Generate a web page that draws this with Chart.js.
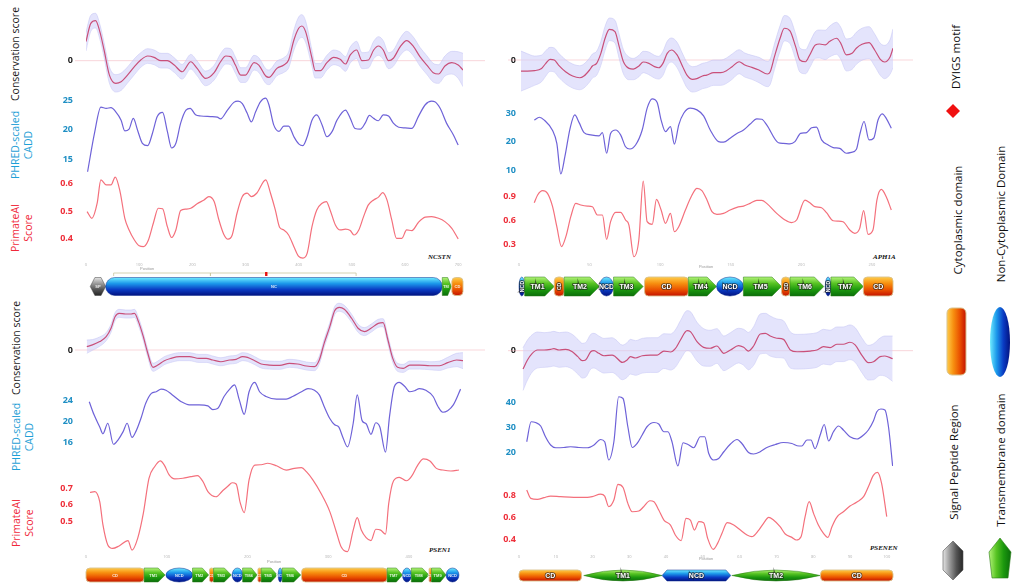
<!DOCTYPE html>
<html>
<head>
<meta charset="utf-8">
<script src="https://cdn.jsdelivr.net/npm/chart.js@4.4.1/dist/chart.umd.min.js"></script>
<style>
  html, body { margin: 0; padding: 0; background: #fff; }
  body { width: 1024px; height: 586px; position: relative; overflow: hidden; font-family: "Open Sans", sans-serif; }
  canvas { position: absolute; }
  .vt { position: absolute; transform: translate(-50%, -50%) rotate(-90deg); white-space: nowrap; text-align: center; line-height: 13px; }
  .gene { position: absolute; font-family: "Liberation Serif", serif; font-style: italic; font-weight: bold; font-size: 7px; color: #111; }
</style>
</head>
<body>

<div class="vt" style="left:15px; top:54px; font-size:10.5px; color:#1a1a1a;">Conservation score</div>
<div class="vt" style="left:22px; top:145px; font-size:10.5px; color:#1ea0d6;">PHRED-scaled<br>CADD</div>
<div class="vt" style="left:22px; top:228px; font-size:10.5px; color:#f0283a;">PrimateAI<br>Score</div>
<div class="vt" style="left:16px; top:348px; font-size:10.5px; color:#1a1a1a;">Conservation score</div>
<div class="vt" style="left:23px; top:437px; font-size:10.5px; color:#1ea0d6;">PHRED-scaled<br>CADD</div>
<div class="vt" style="left:23px; top:523px; font-size:10.5px; color:#f0283a;">PrimateAI<br>Score</div>

<div class="gene" style="left:428px; top:253px;">NCSTN</div>
<div class="gene" style="left:873px; top:253px;">APH1A</div>
<div class="gene" style="left:429px; top:546px;">PSEN1</div>
<div class="gene" style="left:870px; top:544px;">PSENEN</div>

<div class="vt" style="left:955px; top:57px; font-size:11.5px; color:#111;">DYIGS motif</div>
<div class="vt" style="left:957px; top:220px; font-size:11.5px; color:#111;">Cytoplasmic domain</div>
<div class="vt" style="left:1000px; top:214px; font-size:11.5px; color:#111;">Non-Cytoplasmic Domain</div>
<div class="vt" style="left:953px; top:462px; font-size:11.5px; color:#111;">Signal Peptide Region</div>
<div class="vt" style="left:1000px; top:460px; font-size:11.5px; color:#111;">Transmembrane domain</div>

<script>
// ---- NCSTN ----
const ncstnConsX = [0,9,18,26,34,44,56,66,78,91,103,116,128,141,153,166,181,197,209,225,241,253,263,272,281,291,300,316,325,338,344,359,372,381,391,400,406,413,425,431,441,453,466,478,488,497,509,519,531,541,550,559,569,578,591,603,616,628,641,653,663,675,688,700,709];
const ncstnCons = [1.43,2.8,3.0,2.18,0.8,-1.08,-1.7,-1.58,-1.08,-0.45,0.05,0.35,0.25,0,0,-0.33,-0.83,-0.08,-0.58,-1.33,-0.9,-0.08,0.35,0.3,-0.33,-1.08,-1.08,-0.15,-0.33,-1.15,-1.25,-0.58,-0.33,0.05,1.55,2.43,2.6,2.18,0.18,-0.75,-0.75,-0.15,0.25,0.1,-0.25,0.43,0.8,0,0.05,0.8,1.1,0.8,0,0.18,1.05,1.5,1.05,0.3,-0.33,-0.9,-1.0,-0.4,-0.15,-0.33,-0.7];
const ncstnConsSd = [0.7,0.6,0.55,0.55,0.55,0.6,0.65,0.65,0.6,0.6,0.55,0.55,0.55,0.55,0.55,0.55,0.55,0.55,0.55,0.55,0.55,0.6,0.6,0.6,0.6,0.55,0.55,0.55,0.55,0.55,0.55,0.55,0.55,0.6,0.75,0.85,0.85,0.8,0.6,0.55,0.55,0.55,0.55,0.55,0.55,0.6,0.65,0.6,0.6,0.65,0.7,0.7,0.6,0.6,0.65,0.7,0.7,0.7,0.7,0.7,0.7,0.75,0.85,1.0,1.25];
const ncstnCaddX = [3,16,28,38,47,56,66,73,81,89,97,106,116,125,134,144,153,161,169,178,188,196,206,216,234,247,253,266,278,286,294,303,311,319,328,338,344,353,363,372,381,391,400,408,416,425,434,444,453,463,472,488,497,506,516,525,533,541,550,559,569,578,588,600,613,625,638,650,656,666,678,691,700];
const ncstnCadd = [12.9,19.4,23.8,23.6,23.7,23.0,21.6,19.8,20.1,21.9,19.9,17.7,17.3,19.4,22.2,22.9,19.7,16.9,17.7,21.1,23.3,23.6,22.5,22.3,22.2,22.1,21.8,23.3,24.6,24.8,24.4,22.8,21.3,23.0,24.7,25.3,24.2,20.8,19.7,20.6,20.6,18.8,17.6,17.3,18.8,21.6,22.5,20.8,18.8,19.7,21.6,23.3,21.9,20.2,20.1,21.1,22.4,21.9,21.5,22.5,22.3,21.1,20.4,20.3,20.2,22.2,24.2,24.8,24.7,23.6,21.1,19.1,17.4];
const ncstnPaiX = [2,11,21,28,38,47,55,64,73,81,91,100,108,117,127,136,144,153,161,169,178,188,197,209,222,231,241,250,259,267,275,284,294,303,311,321,338,347,356,364,372,381,391,400,408,416,425,434,444,452,459,469,478,488,497,504,513,522,531,541,550,558,566,575,584,594,603,613,625,638,650,663,675,688,700];
const ncstnPai = [0.498,0.474,0.528,0.612,0.594,0.594,0.622,0.570,0.474,0.432,0.396,0.375,0.372,0.394,0.459,0.510,0.508,0.444,0.405,0.432,0.502,0.507,0.510,0.526,0.540,0.552,0.534,0.468,0.417,0.399,0.414,0.492,0.552,0.564,0.552,0.564,0.612,0.564,0.504,0.442,0.432,0.414,0.372,0.337,0.331,0.349,0.444,0.504,0.528,0.534,0.504,0.450,0.432,0.435,0.430,0.414,0.432,0.480,0.522,0.540,0.550,0.566,0.540,0.468,0.402,0.402,0.432,0.430,0.459,0.478,0.480,0.474,0.462,0.438,0.400];
const ncstnDomains = [[8,37,'SP','SP'],[37,670,'NCD','NC'],[670,687,'TM','TM'],[688,709,'CD','CD']];
const ncstnRegions = [[52,234],[234,508]];
const ncstnMotif = [339];

// ---- APH1A ----
const aph1aConsX = [1.4,6,11,16,19,22,25,28,33,38,43,46,50,52,55,58,61,64,68,71,74,78,81,85,88,92,96,99,102,105,108,112,116,119,123,126,130,133,138,143,147,151,156,160,165,170,176,178,181,185,188,192,196,199,203,206,210,213,217,220,225,228,232,236,239,243,248,252,256,259,263,265];
const aph1aCons = [-0.83,-0.83,-0.8,-0.63,-0.25,0.05,0,-0.38,-0.88,-1.2,-1.33,-1.2,-0.75,-0.45,-0.25,0.5,1.63,2.3,2.13,1.0,-0.13,-0.63,-0.68,-0.45,-0.15,-0.25,-0.5,-0.58,-0.25,0.5,0.75,0.38,-0.5,-1.13,-1.45,-1.4,-1.2,-1.13,-0.95,-0.95,-0.8,-0.5,-0.13,-0.38,-0.55,-0.75,-1.05,-0.88,0.25,1.63,2.38,2.18,1.0,0,-0.13,0.38,1.13,1.2,1.13,1.38,1.63,1.25,0.38,0.5,0.88,1.18,1.3,0.75,0.05,-0.15,0.25,0.88];
const aph1aConsSd = [1.5,1.3,1.1,1.0,0.95,0.9,0.9,0.9,0.9,0.9,0.9,0.9,0.9,0.9,0.9,0.9,0.9,0.85,0.85,0.9,0.9,0.85,0.8,0.8,0.8,0.85,0.85,0.85,0.9,0.9,0.9,0.95,0.95,0.95,0.95,0.95,0.95,0.95,0.95,0.95,0.95,0.95,0.9,0.9,0.9,0.95,0.95,0.95,0.95,0.95,0.95,0.95,0.95,0.9,0.9,0.95,1.0,1.05,1.1,1.15,1.2,1.2,1.2,1.2,1.2,1.2,1.2,1.2,1.2,1.25,1.3,1.45];
const aph1aCaddX = [10.8,14.4,17.9,23.8,26.8,29.6,32.5,36.2,39.5,42.6,46.1,50.8,56.7,59.1,62.1,64.9,68.5,72,75.5,78.6,82.6,87.3,90.8,94.4,97.9,100.7,103.8,107.3,110.1,113.2,116.7,121.4,126.1,130.8,135.5,141.4,144.9,149.6,154.4,159.1,163.8,168.5,172,175.5,183.8,187.3,192,195.5,199.5,203.8,207.3,210.8,214.4,219.1,222.6,227.3,232,235.5,239.1,241.4,244.5,248,251.3,254.4,257.4,260.2,263.8];
const aph1aCadd = [27.6,28.6,27.6,23.9,19.4,8.6,14.7,24.7,29.4,26.7,23.2,22.4,22.0,23.2,15.9,22.9,24.1,22.4,18.2,17.4,18.8,24.1,31.8,35.1,33.8,27.6,23.5,25.3,19.1,25.9,30.0,31.8,31.2,29.1,24.1,20.0,19.8,21.2,22.9,24.1,26.2,28.0,27.9,25.9,19.6,19.4,19.2,20.0,22.9,23.2,24.9,25.1,20.6,18.8,17.9,17.6,15.9,16.2,17.3,22.4,27.1,20.6,21.2,27.6,29.8,28.2,24.7];
const aph1aPaiX = [10.8,13.2,16.7,20.2,23.8,26.8,30.1,33.2,36.7,40.2,43.8,48.5,52,55.5,59.1,62.1,64.9,68.5,72,75.5,77.9,81.4,84.9,88,90.8,94.4,97.4,100.7,103.8,107.3,110.1,113.2,117.9,122.6,126.1,129.6,133.2,136.7,140.2,144.9,149.6,154.4,159.1,163.8,168.5,172,175.5,182.6,188.5,193.2,196.7,202.6,206.1,209.6,214.4,217.9,222.6,226.1,229.6,234.4,237.9,241.4,244.2,247.3,250.8,253.6,256.7,260.2,263.8];
const aph1aPai = [0.824,0.921,0.976,0.942,0.774,0.522,0.270,0.396,0.648,0.816,0.795,0.782,0.774,0.669,0.669,0.362,0.585,0.703,0.703,0.606,0.543,0.144,0.354,1.097,0.585,0.551,0.866,0.732,0.564,0.690,0.459,0.522,0.732,0.921,1.005,0.976,0.858,0.711,0.677,0.690,0.732,0.766,0.782,0.816,0.854,0.854,0.816,0.690,0.606,0.572,0.606,0.858,0.824,0.774,0.761,0.698,0.597,0.593,0.585,0.480,0.438,0.501,0.724,0.425,0.480,0.858,0.992,0.900,0.732];
const aph1aDomains = [[0,4,'NCD','NCD'],[4,25,'TM','TM1'],[25,32,'CD','CD'],[32,57,'TM','TM2'],[57,67,'NCD','NCD'],[67,88,'TM','TM3'],[89,120,'CD','CD'],[120,140,'TM','TM4'],[140,159,'NCD','NCD'],[159,186,'TM','TM5'],[186,192,'CD','CD'],[192,216,'TM','TM6'],[217,221,'NCD','NCD'],[221,244,'TM','TM7'],[244,265,'CD','CD']];

// ---- PSEN1 ----
const psen1ConsX = [1,8,17,25,31,36,41,49,56,60,65,71,76,83,89,97,105,116,128,140,149,157,167,178,186,194,200,209,217,227,240,252,262,273,283,289,295,302,308,314,320,329,337,345,353,362,368,374,380,386,393,401,413,426,438,448,459,467];
const psen1Cons = [0.25,0.38,0.63,1.0,1.63,2.5,2.75,2.7,2.7,2.75,2.13,1.0,-0.13,-1.3,-1.13,-0.8,-0.63,-0.5,-0.5,-0.63,-0.63,-0.75,-0.88,-0.75,-0.7,-0.5,-0.55,-0.8,-1.05,-1.13,-1.15,-1.0,-1.05,-1.2,-1.25,-0.75,0.5,1.75,2.95,3.2,3.05,2.38,1.63,1.38,1.63,2.0,2.05,0.75,-0.63,-1.3,-1.38,-1.13,-1.13,-1.18,-1.18,-0.95,-0.75,-0.8];
const psen1ConsSd = [0.5,0.4,0.35,0.3,0.3,0.3,0.3,0.3,0.3,0.3,0.3,0.3,0.3,0.3,0.3,0.3,0.3,0.3,0.3,0.3,0.3,0.3,0.3,0.3,0.3,0.3,0.3,0.3,0.3,0.3,0.3,0.3,0.3,0.3,0.3,0.3,0.3,0.3,0.3,0.3,0.3,0.3,0.3,0.3,0.3,0.3,0.3,0.3,0.3,0.3,0.3,0.3,0.3,0.3,0.35,0.4,0.5,0.6];
const psen1CaddX = [4,10,17,21,27,34,40,46,51,57,62,68,74,81,87,93,99,107,118,128,140,151,157,163,171,178,184,190,196,202,209,215,223,236,248,256,267,275,283,289,295,302,308,313,318,324,331,336,342,347,353,359,364,371,376,382,388,395,401,407,413,421,430,436,442,448,455,464];
const psen1Cadd = [23.8,21.3,19.0,17.7,19.7,15.7,16.6,18.1,19.7,17.0,18.2,20.6,23.5,25.4,25.7,26.2,26.0,25.1,23.8,23.2,23.2,23.0,22.3,22.5,24.8,26.2,27.0,24.1,21.4,25.7,27.5,25.7,24.8,24.3,24.3,24.8,25.7,26.3,26.0,25.1,22.9,20.6,19.4,19.0,17.1,15.2,19.7,25.1,20.2,19.6,17.6,19.8,19.0,14.2,21.0,26.7,27.5,26.7,25.7,25.9,26.3,26.0,24.8,22.9,21.8,22.1,23.2,26.2];
const psen1PaiX = [5,11,17,21,27,33,41,52,57,64,71,78,85,92,97,103,110,120,130,138,145,151,161,169,176,181,186,191,196,202,209,217,225,236,248,258,267,273,281,291,302,310,316,324,331,336,341,347,353,359,365,371,375,381,388,397,403,411,418,426,434,442,452,462];
const psen1Pai = [0.676,0.680,0.619,0.478,0.357,0.336,0.351,0.383,0.326,0.397,0.548,0.761,0.831,0.866,0.841,0.781,0.757,0.761,0.771,0.777,0.740,0.680,0.649,0.684,0.714,0.734,0.726,0.613,0.553,0.751,0.841,0.843,0.852,0.837,0.811,0.821,0.825,0.801,0.751,0.670,0.559,0.437,0.346,0.316,0.447,0.522,0.447,0.401,0.383,0.452,0.447,0.423,0.609,0.746,0.767,0.746,0.771,0.841,0.878,0.866,0.821,0.811,0.805,0.811];
const psen1Domains = [[0,72,'CD','CD'],[72,98,'TM','TM1'],[99,132,'NCD','NCD'],[132,152,'TM','TM2'],[153,158,'CD','CD'],[158,180,'TM','TM3'],[181,194,'NCD','NCD'],[194,212,'TM','TM4'],[213,217,'CD','CD'],[217,237,'TM','TM5'],[238,243,'NCD','NCD'],[243,266,'TM','TM6'],[267,373,'CD','CD'],[373,392,'TM','TM7'],[392,403,'NCD','NCD'],[403,425,'TM','TM8'],[425,428,'CD','CD'],[428,446,'TM','TM9'],[446,462,'NCD','NCD']];

// ---- PSENEN ----
const psenenConsX = [1.1,2.3,3.6,5,6.8,8.6,9.5,10.9,12.7,14.5,16,17.2,18.1,19.5,20.4,21.7,23.1,25.3,26.2,28.1,29.4,30.3,31.7,33.5,35.7,37.6,39.4,41.2,42.5,43.9,45.7,46.6,48.4,50.2,52,53.8,55.7,57.5,59.7,61.1,62.4,63.8,65.6,67,68.3,70.1,71.9,73.8,75.6,79.2,81,82.8,84.6,86.4,88.2,90,91.4,93.2,95,96.4,98.2,99.5,101.6];
const psenenCons = [-1.38,-0.7,-0.2,0.05,0.05,0.1,0.15,0.05,0.1,-0.08,-0.45,-0.75,-0.7,-0.08,0,-0.2,-0.38,-0.33,-0.45,-0.88,-0.7,-0.45,-0.55,-0.38,-0.33,-0.33,-0.03,-0.1,0.15,0.8,1.5,1.43,0.68,0.25,0.18,0.35,-0.2,0.05,0.38,0.25,-0.03,0.35,1.25,1.3,1.1,0.93,0.85,0.05,-0.08,-0.03,0.05,0.3,0.23,0.48,0.48,0.63,0.43,-0.33,-0.9,-0.83,-0.45,-0.4,-0.6];
const psenenConsSd = [1.6,1.5,1.4,1.35,1.3,1.3,1.3,1.3,1.3,1.3,1.3,1.3,1.3,1.3,1.3,1.3,1.3,1.3,1.3,1.3,1.3,1.3,1.3,1.3,1.3,1.3,1.3,1.35,1.4,1.45,1.5,1.5,1.45,1.4,1.35,1.3,1.3,1.3,1.3,1.35,1.4,1.45,1.5,1.5,1.5,1.45,1.4,1.35,1.3,1.3,1.3,1.3,1.3,1.3,1.3,1.3,1.3,1.3,1.3,1.35,1.4,1.5,1.7];
const psenenCaddX = [2.1,3.3,4.5,5.9,7.2,8.6,10,12.2,14,16.3,18.6,20.4,22.2,23.3,24.4,25.8,27.1,28.3,29.6,30.8,32.1,33.5,34.8,36.7,38,39.4,40.5,41.6,43.2,44.6,46.2,47.5,49.3,50.5,51.6,52.9,54.3,55.7,57.5,59.3,60.6,62.4,63.8,65.6,67.4,69.7,71.9,74.2,75.6,76.9,78.3,79.4,80.5,81.9,83,84.2,85.5,86.9,88.2,90,91.9,93.7,95,96.4,97.3,98.4,99.5,100.5,101.6];
const psenenCadd = [24.4,32.4,32.1,30.7,26.4,23.1,22.0,22.1,22.4,22.1,22.0,23.1,25.3,24.4,17.1,24.4,42.4,41.7,30.4,22.1,23.7,27.1,30.4,32.1,31.5,28.4,28.4,24.4,14.7,24.0,23.1,22.0,26.4,26.4,19.7,17.1,17.7,20.4,23.5,25.3,23.7,20.1,19.5,20.4,22.1,23.3,24.1,23.7,22.8,22.7,25.1,25.1,21.6,27.1,31.3,24.7,28.4,30.7,29.1,26.4,25.5,27.1,29.1,32.8,36.4,37.5,37.1,30.1,14.7];
const psenenPaiX = [2.1,3.2,5,6.8,8.6,11.3,14.9,18.6,19.9,22.2,23.3,24.4,25.8,26.9,28.3,29.6,30.8,32.6,33.9,35.6,36.7,38,39.4,41.2,42.5,44.1,45.4,46.6,47.7,48.9,50.2,51.3,52.8,54,55.2,56.6,58.4,60.2,62,63.3,65.2,66.5,67.9,69.2,71,72.4,74.2,75.4,76.7,77.8,78.9,80.1,81.4,82.8,84,85.1,86.4,88.2,90,91.9,93.7,95,96.4,97.5,98.6,100];
const psenenPai = [0.852,0.776,0.766,0.782,0.797,0.791,0.785,0.785,0.791,0.815,0.797,0.699,0.760,0.904,0.876,0.730,0.653,0.660,0.699,0.754,0.745,0.669,0.577,0.531,0.440,0.388,0.592,0.577,0.485,0.562,0.553,0.409,0.308,0.363,0.455,0.553,0.531,0.485,0.440,0.424,0.485,0.547,0.602,0.577,0.516,0.449,0.418,0.394,0.424,0.608,0.745,0.638,0.531,0.455,0.418,0.516,0.602,0.653,0.705,0.742,0.791,0.882,0.989,1.014,0.913,0.608];
const psenenDomains = [[0,17,'CD','CD'],[17.6,38.9,'TM','TM1'],[38.9,57.6,'NCD','NCD'],[57.9,81.9,'TM','TM2'],[82,101.7,'CD','CD']];

// tick labels
const consTicks = [0];
const ncstnCaddTicks = [15, 20, 25], ncstnPaiTicks = [0.4, 0.5, 0.6];
const aph1aCaddTicks = [10, 20, 30], aph1aPaiTicks = [0.3, 0.6, 0.9];
const psen1CaddTicks = [16, 20, 24], psen1PaiTicks = [0.5, 0.6, 0.7];
const psenenCaddTicks = [20, 30, 40], psenenPaiTicks = [0.4, 0.6, 0.8];
const ncstnPosTicks = [0, 100, 200, 300, 400, 500, 600, 700];
const aph1aPosTicks = [0, 50, 100, 150, 200, 250];
const psen1PosTicks = [0, 100, 200, 300, 400];
const psenenPosTicks = [0, 10, 20, 30, 40, 50, 60, 70, 80, 90, 100];

Chart.defaults.font.family = '"Open Sans", sans-serif';
Chart.defaults.animation = false;

const COLS = {
  left:  { plotLeft: 86,  plotWidth: 377, axisW: 41, tickPad: 13, extra: 22 },
  right: { plotLeft: 519, plotWidth: 374, axisW: 26, tickPad: 3,  extra: 20 }
};

const CONS_LINE = '#c9507a', BAND_FILL = 'rgba(206,206,250,0.55)', BAND_EDGE = 'rgba(190,190,242,0.8)';
const CADD_LINE = '#6e62d8', PAI_LINE = '#f4707c';
const CONS_TICK = '#222', CADD_TICK = '#1f8fc4', PAI_TICK = '#ee2f3a';

function addCanvas(left, top, w, h) {
  const cv = document.createElement('canvas');
  cv.width = w; cv.height = h;
  cv.style.left = left + 'px'; cv.style.top = top + 'px';
  cv.style.width = w + 'px'; cv.style.height = h + 'px';
  document.body.appendChild(cv);
  return cv;
}

const zeroLine = {
  id: 'zeroLine',
  beforeDatasetsDraw(chart) {
    const y = chart.scales.y.getPixelForValue(0);
    const c = chart.ctx;
    c.save();
    c.strokeStyle = 'rgba(242,165,175,0.45)';
    c.lineWidth = 1;
    c.beginPath();
    c.moveTo(chart.chartArea.left - 11, y);
    c.lineTo(chart.width, y);
    c.stroke();
    c.restore();
  }
};

function pts(xs, ys) { return xs.map((x, i) => ({ x: x, y: ys[i] })); }

function scoreChart(side, top, height, xMax, xs, ys, o) {
  const C = COLS[side];
  const cv = addCanvas(C.plotLeft - C.axisW, top, C.axisW + C.plotWidth + C.extra, height);
  const datasets = [{
    data: pts(xs, ys), borderColor: o.color, borderWidth: 1.2, pointRadius: 0,
    fill: false, cubicInterpolationMode: 'monotone'
  }];
  if (o.sd) {
    datasets.push({
      data: pts(xs, ys.map((v, i) => v + o.sd[i])), borderColor: BAND_EDGE, borderWidth: 0.6,
      backgroundColor: BAND_FILL, pointRadius: 0, fill: '+1', cubicInterpolationMode: 'monotone'
    });
    datasets.push({
      data: pts(xs, ys.map((v, i) => v - o.sd[i])), borderColor: BAND_EDGE, borderWidth: 0.6,
      pointRadius: 0, fill: false, cubicInterpolationMode: 'monotone'
    });
  }
  return new Chart(cv, {
    type: 'line',
    data: { datasets: datasets },
    options: {
      responsive: false, events: [],
      layout: { padding: { left: 0, right: C.extra, top: 0, bottom: 0 } },
      plugins: { legend: { display: false }, tooltip: { enabled: false } },
      scales: {
        x: { type: 'linear', min: 0, max: xMax, display: false },
        y: {
          min: o.yMin, max: o.yMax,
          afterFit: s => { s.width = C.axisW; s.paddingTop = 0; s.paddingBottom = 0; },
          afterBuildTicks: s => { s.ticks = o.ticks.map(v => ({ value: v })); },
          grid: { display: false, drawTicks: false, tickLength: 0 },
          border: { display: false },
          ticks: { color: o.tickColor, padding: C.tickPad, font: { size: 9, weight: 'bold' }, callback: v => String(v) }
        }
      }
    },
    plugins: o.zero ? [zeroLine] : []
  });
}

// ---- domain shapes ----
const PAL = {
  CD:  ['#ffcc4a', '#f79010', '#ea5200', '#c41200'],
  NCD: ['#70ecff', '#1c98ea', '#0a3cc4', '#021280'],
  TM:  ['#b4f47a', '#58c424', '#1c980e', '#0a6e0a'],
  SP:  ['#e4e4e4', '#9a9a9a', '#555555', '#262626']
};
const EDGE = { CD: '#d9c18c', NCD: '#0c2c90', TM: '#2a7a18', SP: '#444444' };

function grad(c, x0, y0, x1, y1, stops) {
  const g = c.createLinearGradient(x0, y0, x1, y1);
  stops.forEach((s, i) => g.addColorStop(i / (stops.length - 1), s));
  return g;
}

function rrect(c, x, y, w, h, r) {
  c.moveTo(x + r, y);
  c.lineTo(x + w - r, y); c.arcTo(x + w, y, x + w, y + r, r);
  c.lineTo(x + w, y + h - r); c.arcTo(x + w, y + h, x + w - r, y + h, r);
  c.lineTo(x + r, y + h); c.arcTo(x, y + h, x, y + h - r, r);
  c.lineTo(x, y + r); c.arcTo(x, y, x + r, y, r);
  c.closePath();
}

function hexH(c, x0, y0, x1, y1, q) {
  const ym = (y0 + y1) / 2;
  c.moveTo(x0, ym); c.lineTo(x0 + q, y0); c.lineTo(x1 - q, y0);
  c.lineTo(x1, ym); c.lineTo(x1 - q, y1); c.lineTo(x0 + q, y1); c.closePath();
}

function shapePath(c, kind, x0, y0, x1, y1, variant) {
  const w = x1 - x0, h = y1 - y0, ym = (y0 + y1) / 2, xm = (x0 + x1) / 2;
  c.beginPath();
  if (kind === 'CD') {
    rrect(c, x0, y0, w, h, Math.min(4, w / 2, h / 2));
  } else if (kind === 'NCD') {
    if (variant === 'hex') hexH(c, x0, y0, x1, y1, Math.min(h * 0.45, w * 0.2));
    else if (w > 3 * h) rrect(c, x0, y0, w, h, h / 2);
    else c.ellipse(xm, ym, w / 2, h / 2, 0, 0, Math.PI * 2);
  } else if (kind === 'TM') {
    if (variant === 'lens') {
      c.moveTo(x0, ym);
      c.quadraticCurveTo(xm, y0 - h / 2, x1, ym);
      c.quadraticCurveTo(xm, y1 + h / 2, x0, ym);
      c.closePath();
    } else {
      const t = Math.min(h * 0.5, w * 0.4);
      c.moveTo(x0, y0); c.lineTo(x1 - t, y0); c.lineTo(x1, ym);
      c.lineTo(x1 - t, y1); c.lineTo(x0, y1); c.closePath();
    }
  } else if (kind === 'SP') {
    hexH(c, x0, y0, x1, y1, Math.min(h * 0.3, w * 0.3));
  }
}

function domainTrack(side, top, height, xMax, ticks, domains, o) {
  const C = COLS[side];
  const cv = addCanvas(C.plotLeft - 4, top, C.plotWidth + 8, height);
  const drawDomains = {
    id: 'domains',
    afterDraw(chart) {
      const c = chart.ctx, xs = chart.scales.x;
      const y0 = o.barTop, y1 = o.barTop + o.barH, ym = y0 + o.barH / 2;
      c.save();
      // position label
      c.fillStyle = '#999'; c.font = '4px "Liberation Sans"'; c.textAlign = 'center'; c.textBaseline = 'middle';
      c.fillText('Position', o.posX ? xs.getPixelForValue(o.posX) : (chart.chartArea.left + chart.chartArea.right) / 2, o.posY);
      // annotated regions and motif
      (o.regions || []).forEach(r => {
        const a = xs.getPixelForValue(r[0]), b = xs.getPixelForValue(r[1]);
        c.strokeStyle = '#c9c79e'; c.lineWidth = 0.8;
        c.beginPath();
        c.moveTo(a, o.regY + 3); c.lineTo(a, o.regY); c.lineTo(b, o.regY); c.lineTo(b, o.regY + 3);
        c.stroke();
      });
      (o.motif || []).forEach(m => {
        const x = xs.getPixelForValue(m);
        c.fillStyle = '#e81010';
        c.fillRect(x - 1.2, o.regY - 1, 2.4, 4);
      });
      domains.forEach(d => {
        const x0 = xs.getPixelForValue(d[0]), x1 = xs.getPixelForValue(d[1]);
        const kind = d[2];
        const variant = kind === 'TM' ? o.tmShape : (kind === 'NCD' ? o.ncdShape : null);
        shapePath(c, kind, x0, y0, x1, y1, variant);
        c.fillStyle = grad(c, 0, y0, 0, y1, PAL[kind]);
        c.fill();
        c.strokeStyle = EDGE[kind]; c.lineWidth = kind === 'CD' ? 0.9 : 0.5;
        c.stroke();
        // label
        const w = x1 - x0;
        let fs = o.labelSize;
        let lx = (x0 + x1) / 2;
        if (kind === 'TM' && o.tmShape !== 'lens') lx -= Math.min(o.barH * 0.5, w * 0.4) * 0.2;
        c.save();
        c.translate(lx, ym);
        if (w < o.barH * 0.6 && o.labelSize >= 6) { c.rotate(-Math.PI / 2); fs = o.labelSize * 0.75; }
        c.font = 'bold ' + fs + 'px "Liberation Sans"';
        c.textAlign = 'center'; c.textBaseline = 'middle';
        if (fs >= 5) {
          c.lineWidth = 1.6; c.strokeStyle = 'rgba(30,30,30,0.75)';
          c.strokeText(d[3], 0, 0.5);
          c.fillStyle = '#fff';
        } else {
          c.fillStyle = 'rgba(255,255,255,0.85)';
        }
        c.fillText(d[3], 0, 0.5);
        c.restore();
      });
      c.restore();
    }
  };
  return new Chart(cv, {
    type: 'scatter',
    data: { datasets: [] },
    options: {
      responsive: false, events: [],
      layout: { padding: { left: 4, right: 4, top: 0, bottom: 0 } },
      plugins: { legend: { display: false }, tooltip: { enabled: false } },
      scales: {
        x: {
          type: 'linear', position: 'top', min: 0, max: xMax,
          afterFit: s => { s.height = 6; },
          afterBuildTicks: s => { s.ticks = ticks.map(v => ({ value: v })); },
          grid: { display: false, drawTicks: false, tickLength: 0 },
          border: { display: false },
          ticks: { color: '#b4b4b4', padding: 0, maxRotation: 0, autoSkip: false, font: { size: 4 } }
        },
        y: { display: false, min: 0, max: 1 }
      }
    },
    plugins: [drawDomains]
  });
}

// ---- NCSTN (top left) ----
scoreChart('left', 8, 88, 709, ncstnConsX, ncstnCons, { yMin: -2.65, yMax: 3.95, ticks: consTicks, color: CONS_LINE, tickColor: CONS_TICK, sd: ncstnConsSd, zero: true });
scoreChart('left', 92, 84, 709, ncstnCaddX, ncstnCadd, { yMin: 12.18, yMax: 26.35, ticks: ncstnCaddTicks, color: CADD_LINE, tickColor: CADD_TICK });
scoreChart('left', 174, 88, 709, ncstnPaiX, ncstnPai, { yMin: 0.317, yMax: 0.633, ticks: ncstnPaiTicks, color: PAI_LINE, tickColor: PAI_TICK });
domainTrack('left', 261, 36, 709, ncstnPosTicks, ncstnDomains, { barTop: 16.5, barH: 18, labelSize: 4, posY: 8, posX: 115, regions: ncstnRegions, motif: ncstnMotif, regY: 12 });

// ---- APH1A (top right) ----
scoreChart('right', 8, 88, 265, aph1aConsX, aph1aCons, { yMin: -2.7, yMax: 3.9, ticks: consTicks, color: CONS_LINE, tickColor: CONS_TICK, sd: aph1aConsSd, zero: true });
scoreChart('right', 92, 84, 265, aph1aCaddX, aph1aCadd, { yMin: 7.88, yMax: 37.5, ticks: aph1aCaddTicks, color: CADD_LINE, tickColor: CADD_TICK });
scoreChart('right', 174, 88, 265, aph1aPaiX, aph1aPai, { yMin: 0.077, yMax: 1.186, ticks: aph1aPaiTicks, color: PAI_LINE, tickColor: PAI_TICK });
domainTrack('right', 261, 36, 265, aph1aPosTicks, aph1aDomains, { barTop: 16, barH: 19, labelSize: 7, posY: 6 });

// ---- PSEN1 (bottom left) ----
scoreChart('left', 298, 84, 467, psen1ConsX, psen1Cons, { yMin: -2.4, yMax: 3.9, ticks: consTicks, color: CONS_LINE, tickColor: CONS_TICK, sd: psen1ConsSd, zero: true });
scoreChart('left', 376, 84, 467, psen1CaddX, psen1Cadd, { yMin: 12.7, yMax: 28.7, ticks: psen1CaddTicks, color: CADD_LINE, tickColor: CADD_TICK });
scoreChart('left', 456, 100, 467, psen1PaiX, psen1Pai, { yMin: 0.29, yMax: 0.896, ticks: psen1PaiTicks, color: PAI_LINE, tickColor: PAI_TICK });
domainTrack('left', 553, 33, 467, psen1PosTicks, psen1Domains, { barTop: 15, barH: 14, labelSize: 4, posY: 9, posX: 233 });

// ---- PSENEN (bottom right) ----
scoreChart('right', 298, 94, 101.7, psenenConsX, psenenCons, { yMin: -3.1, yMax: 3.95, ticks: consTicks, color: CONS_LINE, tickColor: CONS_TICK, sd: psenenConsSd, zero: true });
scoreChart('right', 388, 82, 101.7, psenenCaddX, psenenCadd, { yMin: 13.1, yMax: 45.9, ticks: psenenCaddTicks, color: CADD_LINE, tickColor: CADD_TICK });
scoreChart('right', 470, 86, 101.7, psenenPaiX, psenenPai, { yMin: 0.247, yMax: 1.036, ticks: psenenPaiTicks, color: PAI_LINE, tickColor: PAI_TICK });
domainTrack('right', 553, 33, 101.7, psenenPosTicks, psenenDomains, { barTop: 17, barH: 11, labelSize: 7, posY: 6, tmShape: 'lens', ncdShape: 'hex' });

// ---- right-hand key ----
(function drawKey() {
  const cv = addCanvas(930, 0, 94, 586);
  const c = cv.getContext('2d');
  // DYIGS motif diamond
  c.fillStyle = '#f01010';
  c.beginPath();
  c.moveTo(23, 104); c.lineTo(30, 111); c.lineTo(23, 118); c.lineTo(16, 111); c.closePath();
  c.fill();
  // cytoplasmic domain
  c.beginPath(); rrect(c, 17, 308, 19, 67, 5);
  c.fillStyle = grad(c, 17, 0, 36, 0, PAL.CD); c.fill();
  c.strokeStyle = EDGE.CD; c.lineWidth = 1; c.stroke();
  // non-cytoplasmic domain
  c.beginPath(); c.ellipse(70, 342, 10, 35, 0, 0, Math.PI * 2);
  c.fillStyle = grad(c, 60, 0, 80, 0, PAL.NCD); c.fill();
  // signal peptide
  c.beginPath();
  c.moveTo(23, 541); c.lineTo(33, 551); c.lineTo(33, 570); c.lineTo(23, 580); c.lineTo(13, 570); c.lineTo(13, 551); c.closePath();
  c.fillStyle = grad(c, 13, 0, 33, 0, PAL.SP); c.fill();
  c.strokeStyle = '#555'; c.lineWidth = 0.6; c.stroke();
  // transmembrane
  c.beginPath();
  c.moveTo(70, 538); c.lineTo(81, 552); c.lineTo(78, 578); c.lineTo(62, 578); c.lineTo(59, 552); c.closePath();
  c.fillStyle = grad(c, 59, 0, 81, 0, PAL.TM); c.fill();
  c.strokeStyle = EDGE.TM; c.lineWidth = 0.6; c.stroke();
})();
</script>
</body>
</html>
